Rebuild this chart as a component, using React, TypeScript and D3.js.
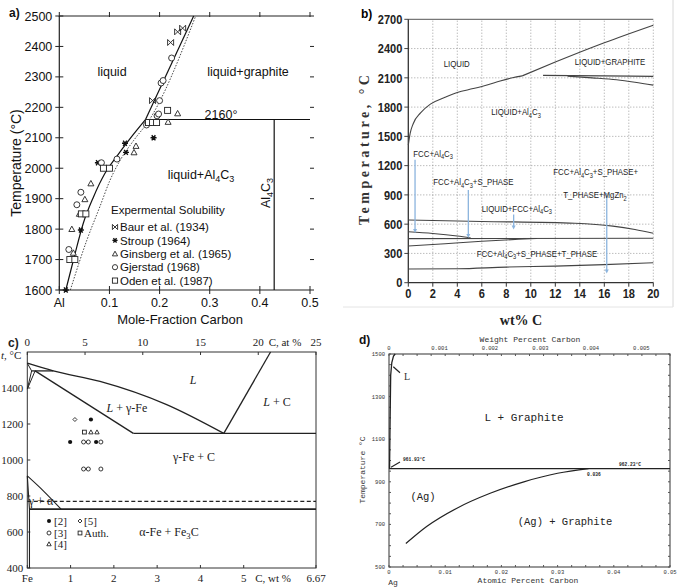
import React from 'react';
import * as d3 from 'd3';

type P = [number, number];

// ---------------- Panel a : Al–C ----------------
const aTempTicks = [1600, 1700, 1800, 1900, 2000, 2100, 2200, 2300, 2400, 2500];
const aXTicks = [0, 0.1, 0.2, 0.3, 0.4, 0.5];
const aXLabels = ['Al', '0.1', '0.2', '0.3', '0.4', '0.5'];
const aLiqSolidLow: P[] = [[0.013, 1600], [0.03, 1710], [0.048, 1820], [0.068, 1905], [0.09, 1980], [0.115, 2040], [0.14, 2095], [0.172, 2160]];
const aLiqSolidHigh: P[] = [[0.172, 2160], [0.268, 2500]];
const aLiqDotted: P[] = [[0.022, 1600], [0.055, 1764], [0.081, 1874], [0.101, 1960], [0.121, 2025], [0.15, 2095], [0.176, 2150], [0.272, 2500]];
const aPeritectic: P[] = [[0.172, 2160], [0.5, 2160]];
const aAl4C3: P[] = [[3 / 7, 1600], [3 / 7, 2160]];
const aBaur: P[] = [[0.186, 2222], [0.222, 2413], [0.236, 2448], [0.246, 2460]];
const aStroup: P[] = [[0.013, 1600], [0.043, 1797], [0.077, 2018], [0.131, 2082], [0.133, 2052], [0.188, 2100]];
const aGinsberg: P[] = [[0.025, 1800], [0.028, 1722], [0.04, 1850], [0.051, 1898], [0.063, 1950], [0.149, 2052], [0.153, 2073], [0.217, 2152], [0.236, 2180]];
const aGjerstad: P[] = [[0.019, 1733], [0.035, 1880], [0.043, 1921], [0.084, 2018], [0.115, 2030], [0.174, 2142], [0.195, 2172], [0.198, 2178], [0.2, 2222], [0.203, 2280], [0.207, 2288], [0.224, 2362]];
const aOden: P[] = [[0.021, 1700], [0.031, 1700], [0.044, 1850], [0.053, 1850], [0.088, 2000], [0.1, 2000], [0.178, 2150], [0.186, 2150], [0.194, 2150], [0.216, 2190]];
const aLegend = ['Baur et al. (1934)', 'Stroup (1964)', 'Ginsberg et al. (1965)', 'Gjerstad (1968)', 'Oden et al. (1987)'];
const aLegendTypes = ['bowtie', 'star', 'tri', 'circle', 'square'];

// ---------------- Panel b : Al–Zn–Mg–C (wt% C) ----------------
const bTempTicks = [0, 300, 600, 900, 1200, 1500, 1800, 2100, 2400, 2700];
const bXTicks = [0, 2, 4, 6, 8, 10, 12, 14, 16, 18, 20];
const bLiquidus: P[] = [[0, 1410], [0.15, 1530], [0.4, 1630], [1, 1740], [1.8, 1830], [3, 1900], [4, 1950], [5.3, 1990], [6.5, 2030], [7.5, 2068], [8.5, 2100], [9.3, 2120]];
const bGraphite: P[] = [[9.3, 2120], [12, 2262], [16, 2460], [20, 2640]];
const bDecomp: P[] = [[11, 2125], [16, 2120], [20, 2115]];
const bLower: P[] = [[13, 2117], [15, 2100], [17, 2080], [18.5, 2055], [20, 2025]];
const bFcc: P[] = [[0, 643], [6, 628], [13.6, 609], [16.7, 580], [18.5, 545], [20, 506]];
const bSolid1: P[] = [[0, 523], [2, 505], [4, 478], [5.1, 458]];
const bSolid2: P[] = [[0, 452], [20, 455]];
const bSolid3: P[] = [[0, 376], [3, 400], [6, 425], [9, 445], [10.5, 453]];
const bSolid4: P[] = [[0, 140], [4, 143], [8, 160], [12, 170], [16, 185], [20, 205]];
const bArrows: [number, number, number][] = [[0.55, 1260, 510], [4.9, 950, 458], [8.6, 700, 545], [16.2, 920, 95]];

// ---------------- Panel c : Fe–C ----------------
const cTempTicks = [400, 600, 800, 1000, 1200, 1400];
const cWtTicks = [0, 1, 2, 3, 4, 5, 6.67];
const cWtLabels = ['Fe', '1', '2', '3', '4', '5', '6.67'];
const cAtTicks = [0, 5, 10, 15, 20, 25];
const cLiquidus: P[] = [[0, 1538], [0.6, 1495], [1.68, 1437], [3.22, 1308], [4.54, 1148]];
const cPeritectic: P[] = [[0.1, 1495], [0.6, 1495]];
const cDelta1: P[] = [[0, 1538], [0.1, 1495]];
const cDelta2: P[] = [[0, 1394], [0.1, 1495]];
const cDelta3: P[] = [[0, 1394], [0.18, 1495]];
const cSolidus: P[] = [[0.18, 1495], [2.45, 1148]];
const cEutectic: P[] = [[2.45, 1148], [6.67, 1148]];
const cGraphite: P[] = [[4.54, 1148], [5.62, 1600]];
const cA3: P[] = [[0, 912], [0.37, 829], [0.78, 727]];
const cAlpha: P[] = [[0, 912], [0.05, 727], [0.05, 400]];
const cEutectoid: P[] = [[0.05, 727], [6.67, 727]];
const cCurie: P[] = [[0, 770], [6.67, 770]];
const cRef5: P[] = [[1.1, 1225]];
const cRef2: P[] = [[1.47, 1225], [0.99, 1100], [1.59, 1100]];
const cAuth: P[] = [[1.32, 1155]];
const cRef4: P[] = [[1.47, 1155], [1.61, 1155]];
const cRef3: P[] = [[1.3, 1100], [1.41, 1100], [1.7, 1100], [1.3, 950], [1.41, 950], [1.7, 950]];

// ---------------- Panel d : Ag–C ----------------
const dTempTicks = [500, 700, 900, 1100, 1300, 1500];
const dAtTicks = [0, 0.01, 0.02, 0.03, 0.04, 0.05];
const dAtLabels = ['0', '0.01', '0.02', '0.03', '0.04', '0.05'];
const dWtTicks = [0, 0.001, 0.002, 0.003, 0.004, 0.005];
const dWtLabels = ['0', '0.001', '0.002', '0.003', '0.004', '0.005'];
const dSolvus: P[] = [[0.003, 610], [0.0067, 690], [0.012, 775], [0.018, 846], [0.024, 900], [0.03, 940], [0.0355, 962]];
const dEutectic: P[] = [[0, 962], [0.05, 962]];
const dLiquidus: P[] = [[0.0001, 962], [0.0002, 1200], [0.0003, 1400], [0.0005, 1460], [0.0008, 1490], [0.0011, 1500]];

function Rich({ s, shift = 3, small = 72 }: { s: string; shift?: number; small?: number }) {
  const parts = s.split(/~(\d)/);
  const out: any[] = [];
  let down = false;
  parts.forEach((p, i) => {
    if (i % 2 === 1) {
      out.push(<tspan key={i} dy={shift} fontSize={`${small}%`}>{p}</tspan>);
      down = true;
    } else if (p) {
      out.push(<tspan key={i} dy={down ? -shift : 0}>{p}</tspan>);
      down = false;
    }
  });
  return <>{out}</>;
}

function Marker({ type, x, y, s = 3 }: { type: string; x: number; y: number; s?: number }) {
  const st = { stroke: '#222', strokeWidth: 0.9, fill: 'none' } as any;
  if (type === 'bowtie')
    return <path transform={`translate(${x},${y})`} d={`M${-s},${-s}L${s},${s}M${-s},${s}L${s},${-s}M${-s},${-s}L${-s},${s}M${s},${-s}L${s},${s}`} {...st} />;
  if (type === 'star')
    return <path transform={`translate(${x},${y})`} d={`M${-s},0L${s},0M${-s * 0.6},${-s * 0.85}L${s * 0.6},${s * 0.85}M${-s * 0.6},${s * 0.85}L${s * 0.6},${-s * 0.85}`} stroke="#111" strokeWidth={1.4} />;
  if (type === 'tri')
    return <path transform={`translate(${x},${y})`} d={`M0,${-s}L${s},${s * 0.8}L${-s},${s * 0.8}Z`} {...st} fill="#fff" />;
  if (type === 'circle') return <circle cx={x} cy={y} r={s} {...st} fill="#fff" />;
  if (type === 'square') return <rect x={x - s} y={y - s} width={2 * s} height={2 * s} {...st} fill="#fff" />;
  if (type === 'dot') return <circle cx={x} cy={y} r={s} fill="#111" />;
  if (type === 'diamond')
    return <path transform={`translate(${x},${y})`} d={`M0,${-s}L${s},0L0,${s}L${-s},0Z`} {...st} fill="#fff" />;
  return null;
}

function PanelA() {
  const x = d3.scaleLinear().domain([0, 0.5]).range([59.3, 310]);
  const y = d3.scaleLinear().domain([1600, 2500]).range([290, 16]);
  const line = d3.line<P>().x(d => x(d[0])).y(d => y(d[1]));
  const curve = d3.line<P>().x(d => x(d[0])).y(d => y(d[1])).curve(d3.curveMonotoneX);
  const font = "'Liberation Sans', Arial, sans-serif";
  const groups: [P[], string][] = [[aBaur, 'bowtie'], [aStroup, 'star'], [aGinsberg, 'tri'], [aGjerstad, 'circle'], [aOden, 'square']];
  return (
    <g fontFamily={font} fill="#111">
      <text x={9} y={17} fontSize={12} fontWeight="bold">a)</text>
      <line x1={x(0)} x2={x(0.5)} y1={y(2500)} y2={y(2500)} stroke="#222" strokeWidth={1.2} />
      <line x1={x(0)} x2={x(0.5)} y1={y(1600)} y2={y(1600)} stroke="#222" strokeWidth={1.2} />
      <line x1={x(0)} x2={x(0)} y1={y(1600)} y2={y(2500)} stroke="#222" strokeWidth={1.2} />
      {aTempTicks.map(t => (
        <g key={t}>
          <line x1={x(0) - 4} x2={x(0) + 4} y1={y(t)} y2={y(t)} stroke="#222" />
          <line x1={x(0.5)} x2={x(0.5) + 4} y1={y(t)} y2={y(t)} stroke="#222" />
          <text x={x(0) - 7} y={y(t)} dy="0.36em" textAnchor="end" fontSize={12.5}>{t}</text>
        </g>
      ))}
      {aXTicks.map((t, i) => (
        <g key={t}>
          <line x1={x(t)} x2={x(t)} y1={y(2500) - 4} y2={y(2500) + 1} stroke="#222" />
          <line x1={x(t)} x2={x(t)} y1={y(1600) - 4} y2={y(1600) + 4} stroke="#222" />
          <text x={x(t)} y={y(1600) + 17} textAnchor="middle" fontSize={12.5}>{aXLabels[i]}</text>
        </g>
      ))}
      <text x={180} y={324} textAnchor="middle" fontSize={13}>Mole-Fraction Carbon</text>
      <text transform={`translate(21,${163}) rotate(-90)`} textAnchor="middle" fontSize={14}>Temperature (°C)</text>
      <path d={curve(aLiqSolidLow) || ''} fill="none" stroke="#111" strokeWidth={1.2} />
      <path d={line(aLiqSolidHigh) || ''} fill="none" stroke="#111" strokeWidth={1.2} />
      <path d={curve(aLiqDotted) || ''} fill="none" stroke="#333" strokeWidth={0.9} strokeDasharray="1.5,1.5" />
      <path d={line(aPeritectic) || ''} fill="none" stroke="#111" strokeWidth={1.2} />
      <path d={line(aAl4C3) || ''} fill="none" stroke="#111" strokeWidth={1.2} />
      {groups.map(([pts, t]) => pts.map((p, i) => <Marker key={t + i} type={t} x={x(p[0])} y={y(p[1])} />))}
      <text x={112} y={76} textAnchor="middle" fontSize={12.5}>liquid</text>
      <text x={248} y={76} textAnchor="middle" fontSize={12.5}>liquid+graphite</text>
      <text x={221} y={119} textAnchor="middle" fontSize={12.5}>2160°</text>
      <text x={201} y={179} textAnchor="middle" fontSize={12.5}><Rich s="liquid+Al~4C~3" /></text>
      <text transform={`translate(270,193) rotate(-90)`} textAnchor="middle" fontSize={12.5}><Rich s="Al~4C~3" /></text>
      <text x={111} y={214} fontSize={11.5}>Expermental Solubility</text>
      {aLegend.map((l, i) => (
        <g key={l}>
          <Marker type={aLegendTypes[i]} x={115} y={227 + i * 13.4} s={2.6} />
          <text x={120} y={227 + i * 13.4} dy="0.36em" fontSize={11.5}>{l}</text>
        </g>
      ))}
    </g>
  );
}

function PanelB() {
  const x = d3.scaleLinear().domain([0, 20]).range([408.3, 653.3]);
  const y = d3.scaleLinear().domain([0, 2700]).range([282.7, 19.3]);
  const curve = d3.line<P>().x(d => x(d[0])).y(d => y(d[1])).curve(d3.curveMonotoneX);
  const sans = "'Liberation Sans', Arial, sans-serif";
  const lines = [bLiquidus, bGraphite, bDecomp, bLower, bFcc, bSolid1, bSolid2, bSolid3, bSolid4];
  const labels: [string, number, number, string][] = [
    ['LIQUID', 456.7, 66.5, 'middle'],
    ['LIQUID+GRAPHITE', 610, 65, 'middle'],
    ['LIQUID+Al~4C~3', 516, 115, 'middle'],
    ['FCC+Al~4C~3', 413.3, 156.5, 'start'],
    ['FCC+Al~4C~3+S_PHASE', 433.3, 185, 'start'],
    ['FCC+Al~4C~3+S_PHASE+', 553.3, 175, 'start'],
    ['T_PHASE+MgZn~2', 563.3, 198, 'start'],
    ['LIQUID+FCC+Al~4C~3', 481.7, 211.5, 'start'],
    ['FCC+Al~4C~3+S_PHASE+T_PHASE', 476.7, 256.5, 'start'],
  ];
  return (
    <g>
      <line x1={673} x2={673} y1={0} y2={307} stroke="#d8d8d8" />
      <line x1={343} x2={673} y1={307} y2={307} stroke="#e4e4e4" />
      <text x={361} y={18} fontSize={12} fontWeight="bold" fontFamily={sans}>b)</text>
      {bTempTicks.slice(1, -1).map(t => (
        <line key={t} x1={x(0)} x2={x(20)} y1={y(t)} y2={y(t)} stroke="#888" strokeWidth={0.8} strokeDasharray="1,2" />
      ))}
      {bXTicks.slice(1, -1).map(t => (
        <line key={t} x1={x(t)} x2={x(t)} y1={y(0)} y2={y(2700)} stroke="#888" strokeWidth={0.8} strokeDasharray="1,2" />
      ))}
      <line x1={x(0)} x2={x(20)} y1={y(2700)} y2={y(2700)} stroke="#555" strokeWidth={1} />
      <line x1={x(20)} x2={x(20)} y1={y(0)} y2={y(2700)} stroke="#888" strokeWidth={0.8} strokeDasharray="1,2" />
      <line x1={x(0)} x2={x(0)} y1={y(0)} y2={y(2700)} stroke="#333" strokeWidth={1.3} />
      <line x1={x(0)} x2={x(20)} y1={y(0)} y2={y(0)} stroke="#333" strokeWidth={1.3} />
      {bTempTicks.map(t => (
        <g key={t} transform={`translate(${x(0) - 6},${y(t)}) scale(0.85,1)`}>
          <line x1={2.4} x2={7} y1={0} y2={0} stroke="#333" />
          <text dy="0.36em" textAnchor="end" fontSize={13} fontWeight="bold" fontFamily={sans} fill="#222">{t}</text>
        </g>
      ))}
      {bXTicks.map(t => (
        <g key={t}>
          <line x1={x(t)} x2={x(t)} y1={y(0)} y2={y(0) + 4} stroke="#333" />
          <text transform={`translate(${x(t)},${y(0) + 15}) scale(0.85,1)`} textAnchor="middle" fontSize={13} fontWeight="bold" fontFamily={sans} fill="#222">{t}</text>
        </g>
      ))}
      <text transform="translate(369,150) rotate(-90)" textAnchor="middle" fontSize={14} fontWeight="bold" fontFamily="'Liberation Serif', 'Times New Roman', serif" textLength={150} lengthAdjust="spacing" fill="#333">Temperature, °C</text>
      <text x={521} y={325} textAnchor="middle" fontSize={14} fontWeight="bold" fontFamily="'Liberation Serif', 'Times New Roman', serif" fill="#222">wt% C</text>
      {lines.map((l, i) => (
        <path key={i} d={curve(l) || ''} fill="none" stroke="#444" strokeWidth={1.1} />
      ))}
      {bArrows.map((a, i) => (
        <g key={i}>
          <line x1={x(a[0])} x2={x(a[0])} y1={y(a[1])} y2={y(a[2]) - 3} stroke="#8bb4de" strokeWidth={1.3} />
          <path d={`M${x(a[0]) - 2},${y(a[2]) - 4}L${x(a[0]) + 2},${y(a[2]) - 4}L${x(a[0])},${y(a[2])}Z`} fill="#8bb4de" />
        </g>
      ))}
      {labels.map(([s, lx, ly, anchor]) => (
        <text key={s} transform={`translate(${lx},${ly}) scale(0.8,1)`} textAnchor={anchor} fontSize={9.8} fontFamily={sans} fill="#222">
          <Rich s={s} shift={2.5} />
        </text>
      ))}
    </g>
  );
}

function PanelC() {
  const x = d3.scaleLinear().domain([0, 6.67]).range([27.3, 316]);
  const xAt = d3.scaleLinear().domain([0, 25]).range([27.3, 316]);
  const y = d3.scaleLinear().domain([400, 1600]).range([568, 352]);
  const line = d3.line<P>().x(d => x(d[0])).y(d => y(d[1]));
  const curve = d3.line<P>().x(d => x(d[0])).y(d => y(d[1])).curve(d3.curveMonotoneX);
  const serif = "'Liberation Serif', 'Times New Roman', serif";
  const st = { fill: 'none', stroke: '#222', strokeWidth: 1.3 } as any;
  return (
    <g fontFamily={serif} fill="#222">
      <text x={8} y={347} fontSize={12} fontWeight="bold" fontFamily="'Liberation Sans', Arial, sans-serif">c)</text>
      <rect x={x(0)} y={y(1600)} width={x(6.67) - x(0)} height={y(400) - y(1600)} fill="none" stroke="#333" strokeWidth={1} />
      {cAtTicks.map(t => (
        <g key={t}>
          <line x1={xAt(t)} x2={xAt(t)} y1={y(1600)} y2={y(1600) + 3} stroke="#333" />
          <text x={xAt(t)} y={346} textAnchor="middle" fontSize={11}>{t}</text>
        </g>
      ))}
      <text x={285} y={346} textAnchor="middle" fontSize={11}>C, at %</text>
      {cWtTicks.map((t, i) => (
        <g key={t}>
          <line x1={x(t)} x2={x(t)} y1={y(400)} y2={y(400) - 3} stroke="#333" />
          <text x={x(t)} y={582} textAnchor="middle" fontSize={11}>{cWtLabels[i]}</text>
        </g>
      ))}
      <text x={273} y={582} textAnchor="middle" fontSize={11}>C, wt %</text>
      {cTempTicks.map(t => (
        <g key={t}>
          <line x1={x(0)} x2={x(0) + 3} y1={y(t)} y2={y(t)} stroke="#333" />
          <text x={x(0) - 4} y={y(t)} dy="0.35em" textAnchor="end" fontSize={11}>{t}</text>
        </g>
      ))}
      <text x={1} y={359} fontSize={11}><tspan fontStyle="italic">t</tspan>, °C</text>
      <path d={curve(cLiquidus) || ''} {...st} />
      <path d={line(cPeritectic) || ''} {...st} />
      <path d={line(cDelta1) || ''} {...st} strokeWidth={1} />
      <path d={line(cDelta2) || ''} {...st} strokeWidth={1} />
      <path d={line(cDelta3) || ''} {...st} strokeWidth={1} />
      <path d={line(cSolidus) || ''} {...st} />
      <path d={line(cEutectic) || ''} {...st} />
      <path d={line(cGraphite) || ''} {...st} />
      <path d={curve(cA3) || ''} {...st} strokeWidth={1.1} />
      <path d={line(cAlpha) || ''} {...st} strokeWidth={1.1} />
      <path d={line(cEutectoid) || ''} {...st} strokeWidth={1.7} />
      <path d={line(cCurie) || ''} {...st} strokeWidth={1.1} strokeDasharray="4,2.5" />
      {cRef5.map((p, i) => <Marker key={'5' + i} type="diamond" x={x(p[0])} y={y(p[1])} s={2} />)}
      {cRef2.map((p, i) => <Marker key={'2' + i} type="dot" x={x(p[0])} y={y(p[1])} s={2.1} />)}
      {cAuth.map((p, i) => <Marker key={'a' + i} type="square" x={x(p[0])} y={y(p[1])} s={1.9} />)}
      {cRef4.map((p, i) => <Marker key={'4' + i} type="tri" x={x(p[0])} y={y(p[1])} s={2.2} />)}
      {cRef3.map((p, i) => <Marker key={'3' + i} type="circle" x={x(p[0])} y={y(p[1])} s={2} />)}
      <text x={193} y={384} textAnchor="middle" fontSize={12} fontStyle="italic">L</text>
      <text x={127} y={412} textAnchor="middle" fontSize={12}><tspan fontStyle="italic">L</tspan> + γ-Fe</text>
      <text x={277} y={406} textAnchor="middle" fontSize={12}><tspan fontStyle="italic">L</tspan> + C</text>
      <text x={194} y={461} textAnchor="middle" fontSize={12}>γ-Fe + C</text>
      <text x={169} y={536} textAnchor="middle" fontSize={12}><Rich s="α-Fe + Fe~3C" shift={2.5} /></text>
      <text x={41} y={505} textAnchor="middle" fontSize={12}>γ + α</text>
      <Marker type="dot" x={49} y={521} s={2} />
      <text x={54} y={521} dy="0.35em" fontSize={11}>[2]</text>
      <Marker type="diamond" x={80} y={521} s={2} />
      <text x={84} y={521} dy="0.35em" fontSize={11}>[5]</text>
      <Marker type="circle" x={49} y={533} s={2} />
      <text x={54} y={533} dy="0.35em" fontSize={11}>[3]</text>
      <Marker type="square" x={80} y={533} s={1.9} />
      <text x={84} y={533} dy="0.35em" fontSize={11}>Auth.</text>
      <Marker type="tri" x={49} y={544} s={2.2} />
      <text x={54} y={544} dy="0.35em" fontSize={11}>[4]</text>
    </g>
  );
}

function PanelD() {
  const x = d3.scaleLinear().domain([0, 0.05]).range([389, 670]);
  const xW = d3.scaleLinear().domain([0, 0.05 * 0.11135]).range([389, 670]);
  const y = d3.scaleLinear().domain([500, 1500]).range([567, 354]);
  const line = d3.line<P>().x(d => x(d[0])).y(d => y(d[1]));
  const curve = d3.line<P>().x(d => x(d[0])).y(d => y(d[1])).curve(d3.curveMonotoneX);
  const mono = "'Liberation Mono', 'Courier New', monospace";
  const minorX = d3.range(0, 0.0501, 0.0025);
  const minorY = d3.range(500, 1501, 50);
  return (
    <g fontFamily={mono} fill="#333">
      <text x={359} y={344} fontSize={12} fontWeight="bold" fontFamily="'Liberation Sans', Arial, sans-serif" fill="#111">d)</text>
      <rect x={x(0)} y={y(1500)} width={x(0.05) - x(0)} height={y(500) - y(1500)} fill="none" stroke="#444" strokeWidth={1.1} />
      {minorX.map((t, i) => (
        <g key={i}>
          <line x1={x(t)} x2={x(t)} y1={y(500)} y2={y(500) - 2} stroke="#555" />
          <line x1={x(t)} x2={x(t)} y1={y(1500)} y2={y(1500) + 2} stroke="#555" />
        </g>
      ))}
      {minorY.map((t, i) => (
        <g key={i}>
          <line x1={x(0)} x2={x(0) + 2} y1={y(t)} y2={y(t)} stroke="#555" />
          <line x1={x(0.05)} x2={x(0.05) - 2} y1={y(t)} y2={y(t)} stroke="#555" />
        </g>
      ))}
      {dAtTicks.map((t, i) => (
        <text key={t} x={x(t)} y={574} textAnchor="middle" fontSize={5.5}>{dAtLabels[i]}</text>
      ))}
      {dWtTicks.map((t, i) => (
        <text key={t} x={xW(t)} y={350} textAnchor="middle" fontSize={5.5}>{dWtLabels[i]}</text>
      ))}
      {dTempTicks.map(t => (
        <text key={t} x={385} y={y(t)} dy="0.35em" textAnchor="end" fontSize={5.5}>{t}</text>
      ))}
      <text x={530} y={342} textAnchor="middle" fontSize={8}>Weight Percent Carbon</text>
      <text x={528} y={583} textAnchor="middle" fontSize={8}>Atomic Percent Carbon</text>
      <text x={393} y={585} textAnchor="middle" fontSize={8}>Ag</text>
      <text transform="translate(365,470) rotate(-90)" textAnchor="middle" fontSize={8}>Temperature °C</text>
      <path d={line(dEutectic) || ''} fill="none" stroke="#222" strokeWidth={1.3} />
      <path d={curve(dSolvus) || ''} fill="none" stroke="#222" strokeWidth={1.2} />
      <path d={line(dLiquidus) || ''} fill="none" stroke="#222" strokeWidth={1.3} />
      <line x1={393.3} y1={366.7} x2={400} y2={372.7} stroke="#222" strokeWidth={1.2} />
      <text x={404} y={380} fontSize={10} fontFamily="'Liberation Serif', serif">L</text>
      <line x1={400} y1={462} x2={391} y2={467.3} stroke="#222" strokeWidth={1.1} />
      <text x={403} y={461} fontSize={4.6} fontWeight="bold" fill="#222">961.93°C</text>
      <text x={619} y={466} fontSize={4.6} fontWeight="bold" fill="#222">962.23°C</text>
      <text x={587} y={476} fontSize={4.6} fontWeight="bold" fill="#222">0.036</text>
      <text x={524} y={421} textAnchor="middle" fontSize={11} fill="#222">L + Graphite</text>
      <text x={423} y={500} textAnchor="middle" fontSize={10.5} fill="#222">(Ag)</text>
      <text x={565} y={525} textAnchor="middle" fontSize={10.5} fill="#222">(Ag) + Graphite</text>
    </g>
  );
}

export default function App() {
  return (
    <svg width={678} height={588} viewBox="0 0 678 588" style={{ position: 'absolute', left: 0, top: 0, background: '#fff' }}>
      <rect width={678} height={588} fill="#fff" />
      <PanelA />
      <PanelB />
      <PanelC />
      <PanelD />
    </svg>
  );
}
